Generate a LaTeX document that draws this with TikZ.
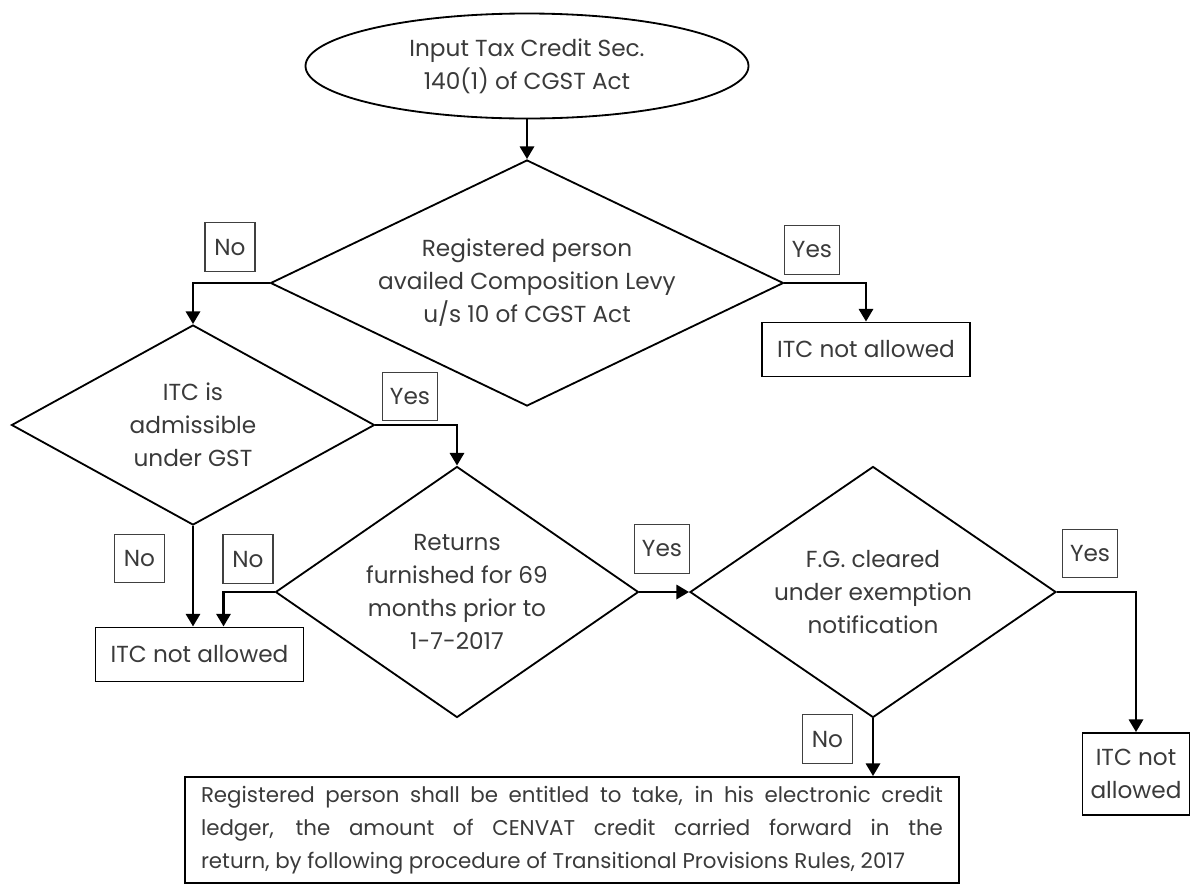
\documentclass[tikz,border=0pt]{standalone}
\usepackage{fontspec}
\setmainfont{Poppins}
\usepackage{tikz}
\usetikzlibrary{shapes.geometric, arrows.meta}
\definecolor{grisTexto}{RGB}{58, 58, 58}

\begin{document}
\begin{tikzpicture}[
            texto/.style={text=grisTexto, font=\fontsize{16.5}{23.5}\selectfont},
            inicio/.style={ellipse, draw, line width=1.3pt, inner sep=0pt, align=center, texto},
            decision/.style={diamond, draw, line width=1.3pt, inner sep=0pt, align=center, texto},
            caja/.style={rectangle, draw, line width=1.3pt, align=center, texto},
            etiqueta/.style={rectangle, draw=black!75, line width=0.8pt, minimum width=1.25cm, minimum height=1.22cm, inner xsep=0.18cm, texto},
            flecha/.style={-{Triangle[length=9pt, width=10pt]}, line width=2pt}]

            \useasboundingbox (0,0) rectangle (29.975,-22.1);

            \node[inicio, minimum width=11.075cm, minimum height=2.625cm] (ini) at (13.175,-1.65) {Input Tax Credit Sec.\\140(1) of CGST Act};
            \node[decision, minimum width=12.825cm, minimum height=6.15cm, aspect=2.085] (comp) at (13.175,-7.075) {Registered person\\availed Composition Levy\\u/s 10 of CGST Act};
            \node[decision, minimum width=9.075cm, minimum height=5cm, aspect=1.815] (adm) at (4.825,-10.625) {ITC is\\admissible\\under GST};
            \node[decision, minimum width=9.075cm, minimum height=6.275cm, aspect=1.446] (ret) at (11.425,-14.8) {Returns\\furnished for 69\\months prior to\\1-7-2017};
            \node[decision, minimum width=9.15cm, minimum height=6.275cm, aspect=1.458] (fg) at (21.825,-14.8) {F.G. cleared\\under exemption\\notification};

            \node[caja, minimum width=5.2cm, minimum height=1.35cm] (na1) at (21.65,-8.7375) {ITC not allowed};
            \node[caja, minimum width=5.2cm, minimum height=1.35cm] (na2) at (4.9875,-16.36) {ITC not allowed};
            \node[caja, minimum width=2.675cm, minimum height=2.05cm, inner xsep=0pt] (na3) at (28.4,-19.35) {ITC not\\allowed};
            \node[caja, minimum width=19.35cm, minimum height=2.65cm, text width=18.55cm, align=justify, inner sep=0pt, font=\fontsize{15.2}{23.5}\selectfont] (reg) at (14.3,-20.75)
                {\parfillskip=0pt Registered person shall be entitled to take, in his electronic credit\linebreak ledger, the amount of CENVAT credit carried forward in the\linebreak return, by following procedure of Transitional Provisions Rules, 2017};

            % etiquetas Si / No
            \node[etiqueta] (no1) at (5.75,-6.175) {No};
            \node[etiqueta] (si1) at (20.3,-6.25) {Yes};
            \node[etiqueta] (si2) at (10.25,-9.9125) {Yes};
            \node[etiqueta] (no2) at (3.4875,-13.9625) {No};
            \node[etiqueta] (no3) at (6.2,-13.975) {No};
            \node[etiqueta] (si3) at (16.55,-13.725) {Yes};
            \node[etiqueta] (si4) at (27.25,-13.8375) {Yes};
            \node[etiqueta] (no4) at (20.6875,-18.475) {No};

            \draw[flecha] (ini) -- (comp);
            \draw[flecha] (comp.west) -| (adm.north);
            \draw[flecha] (comp.east) -| (na1.north);
            \draw[flecha] (adm.east) -| (ret.north);
            \draw[flecha] (adm.south) -- (adm.south |- na2.north);
            \draw[flecha] (ret.west) -| ([xshift=0.6cm]na2.north);
            \draw[flecha] (ret.east) -- (fg.west);
            \draw[flecha] (fg.east) -| (na3.north);
            \draw[flecha] (fg.south) -- (fg.south |- reg.north);
        \end{tikzpicture}
\end{document}
